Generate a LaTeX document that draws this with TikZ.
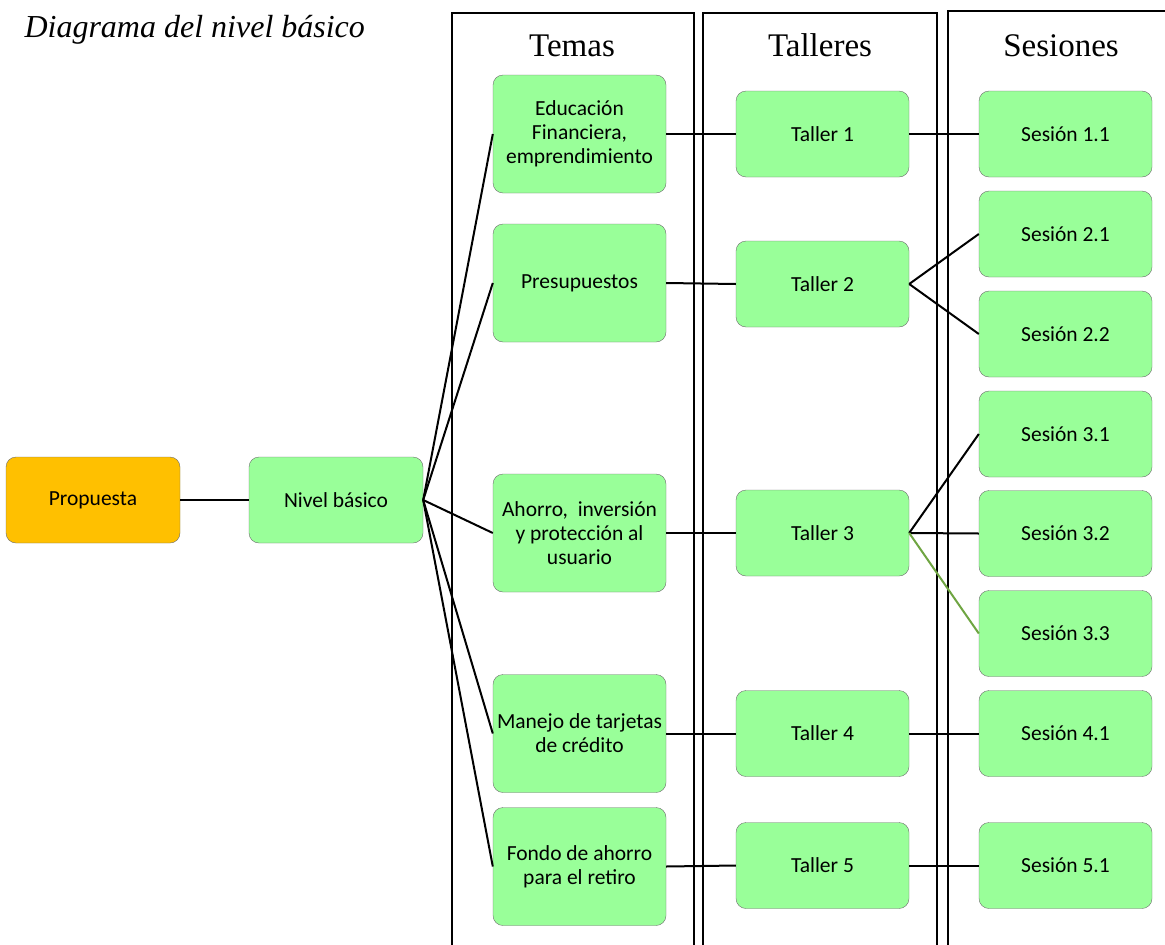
\documentclass[tikz,border=0pt]{standalone}
\usepackage{fontspec}
\setmainfont{Liberation Serif}
\newfontfamily\cajafont{Carlito}
\definecolor{verde}{HTML}{99FF99}
\definecolor{naranja}{HTML}{FFC000}
\definecolor{verdeosc}{HTML}{6FA542}

\begin{document}
\begin{tikzpicture}[x=1pt, y=-1pt,
  caja/.style={draw=gray!85!black, fill=verde, rounded corners=10pt,
    minimum width=173pt, minimum height=86pt, inner sep=2pt, align=center,
    font=\cajafont\fontsize{21.5}{24}\selectfont},
  tema/.style={caja, minimum height=118pt},
  marco/.style={line width=1.4pt},
  enlace/.style={line width=2pt},
  cabecera/.style={anchor=base, font=\fontsize{33}{38}\selectfont}]
\useasboundingbox (0,0) rectangle (1165,945);

% titulo y columnas
\node [anchor=base west, font=\fontsize{32}{38}\selectfont\itshape] (titulo) at (21,37) {Diagrama del nivel básico};
\draw [marco] (452,945) -- (452,13) -- (694,13) -- (694,945);
\draw [marco] (703,945) -- (703,13) -- (937,13) -- (937,945);
\draw [marco] (948,945) -- (948,11) -- (1170,11);
\node [cabecera] (temas) at (572,56) {Temas};
\node [cabecera] (talleres) at (820,56) {Talleres};
\node [cabecera] (sesiones) at (1061,56) {Sesiones};

% propuesta y nivel
\node [caja, fill=naranja, minimum width=174pt] (prop) at (93,500) {Propuesta};
\node [caja, minimum width=174pt] (nivel) at (336,500) {Nivel básico};

% temas
\node [tema] (educ) at (579.5,134) {Educación\\Financiera,\\emprendimiento};
\node [tema] (pres) at (579.5,283) {Presupuestos};
\node [tema] (ahorro) at (579.5,533) {Ahorro,~ inversión\\y protección al\\usuario};
\node [tema] (manejo) at (579.5,733.5) {Manejo de tarjetas\\de crédito};
\node [tema] (fondo) at (579.5,866.5) {Fondo de ahorro\\para el retiro};

% talleres
\node [caja] (t1) at (822.5,134) {Taller 1};
\node [caja] (t2) at (822.5,284) {Taller 2};
\node [caja] (t3) at (822.5,533) {Taller 3};
\node [caja] (t4) at (822.5,733.5) {Taller 4};
\node [caja] (t5) at (822.5,865.5) {Taller 5};

% sesiones
\node [caja] (s11) at (1065.5,134) {Sesión 1.1};
\node [caja] (s21) at (1065.5,234) {Sesión 2.1};
\node [caja] (s22) at (1065.5,334) {Sesión 2.2};
\node [caja] (s31) at (1065.5,434) {Sesión 3.1};
\node [caja] (s32) at (1065.5,533.5) {Sesión 3.2};
\node [caja] (s33) at (1065.5,633.5) {Sesión 3.3};
\node [caja] (s41) at (1065.5,733.5) {Sesión 4.1};
\node [caja] (s51) at (1065.5,865.5) {Sesión 5.1};

% enlaces
\draw [enlace] (prop.east) -- (nivel.west);
\draw [enlace] (nivel.east) -- (educ.west);
\draw [enlace] (nivel.east) -- (pres.west);
\draw [enlace] (nivel.east) -- (ahorro.west);
\draw [enlace] (nivel.east) -- (manejo.west);
\draw [enlace] (nivel.east) -- (fondo.west);
\draw [enlace] (educ.east) -- (t1.west);
\draw [enlace] (pres.east) -- (t2.west);
\draw [enlace] (ahorro.east) -- (t3.west);
\draw [enlace] (manejo.east) -- (t4.west);
\draw [enlace] (fondo.east) -- (t5.west);
\draw [enlace] (t1.east) -- (s11.west);
\draw [enlace] (t2.east) -- (s21.west);
\draw [enlace] (t2.east) -- (s22.west);
\draw [enlace] (t3.east) -- (s31.west);
\draw [enlace] (t3.east) -- (s32.west);
\draw [enlace, verdeosc] (t3.east) -- (s33.west);
\draw [enlace] (t4.east) -- (s41.west);
\draw [enlace] (t5.east) -- (s51.west);
\end{tikzpicture}
\end{document}
